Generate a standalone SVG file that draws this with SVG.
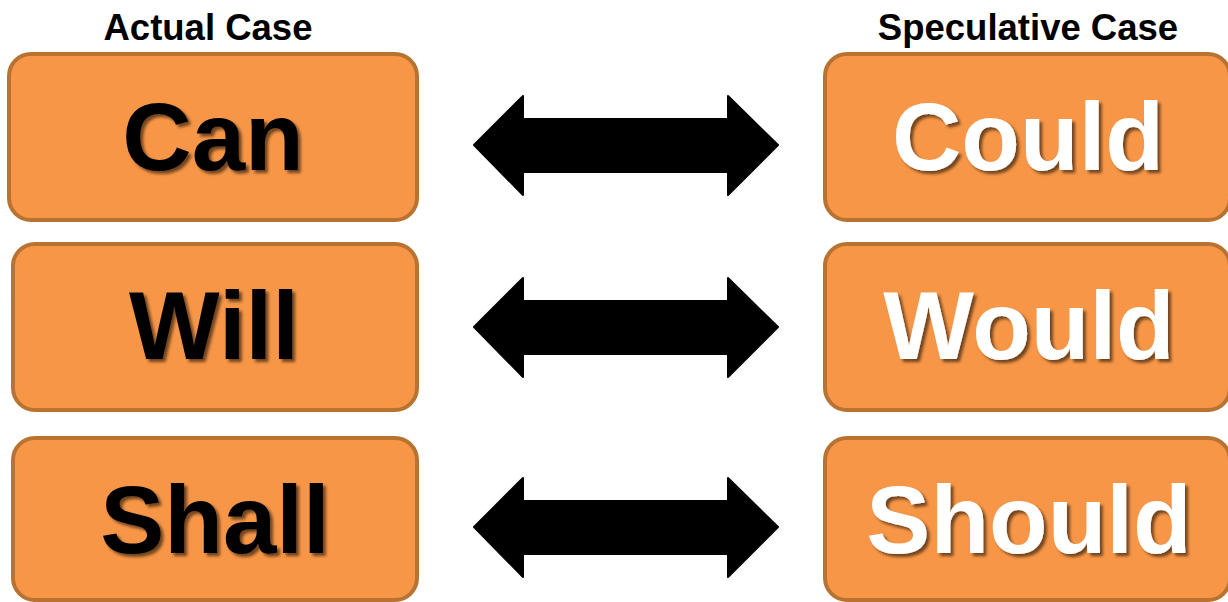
<svg xmlns="http://www.w3.org/2000/svg" width="1228" height="602" viewBox="0 0 1228 602">
<defs>
<filter id="sh" x="-10%" y="-10%" width="130%" height="140%">
<feDropShadow dx="3" dy="3" stdDeviation="1.8" flood-color="#000" flood-opacity="0.55"/>
</filter>
<style>
.box{fill:#F79646;stroke:#B87333;stroke-width:4}
.big{font-family:"Liberation Sans",Arial,sans-serif;font-weight:bold;font-size:96px;text-anchor:middle;filter:url(#sh)}
.dark{fill:#000}
.light{fill:#fff}
.hdr{font-family:"Liberation Sans",Arial,sans-serif;font-weight:bold;font-size:36.5px;text-anchor:middle;fill:#000}
.arr{fill:#000;stroke:#000;stroke-width:2;stroke-linejoin:round}
</style>
</defs>
<rect width="1228" height="602" fill="#fff"/>
<text class="hdr" x="208" y="40">Actual Case</text>
<text class="hdr" x="1028" y="40">Speculative Case</text>
<g id="can"><rect class="box" x="9" y="54" width="408" height="166" rx="22"/><text class="big dark" x="213" y="170">Can</text></g>
<g id="will"><rect class="box" x="13" y="244" width="404" height="166" rx="22"/><text class="big dark" x="214" y="359">Will</text></g>
<g id="shall"><rect class="box" x="13" y="438" width="404" height="162" rx="22"/><text class="big dark" x="215" y="553">Shall</text></g>
<g id="could"><rect class="box" x="825" y="54" width="405" height="166" rx="22"/><text class="big light" x="1028" y="170">Could</text></g>
<g id="would"><rect class="box" x="825" y="244" width="405" height="166" rx="22"/><text class="big light" x="1029" y="359">Would</text></g>
<g id="should"><rect class="box" x="825" y="438" width="405" height="162" rx="22"/><text class="big light" x="1029" y="553">Should</text></g>
<g id="connectors">
<path class="arr" d="M474,145 L523,96 L523,119 L728,119 L728,96 L778,145 L728,195 L728,172 L523,172 L523,195 Z"/>
<path class="arr" d="M474,327 L523,278 L523,301 L728,301 L728,278 L778,327 L728,377 L728,354 L523,354 L523,377 Z"/>
<path class="arr" d="M474,527 L523,478 L523,501 L728,501 L728,478 L778,527 L728,577 L728,554 L523,554 L523,577 Z"/>
</g>
</svg>
